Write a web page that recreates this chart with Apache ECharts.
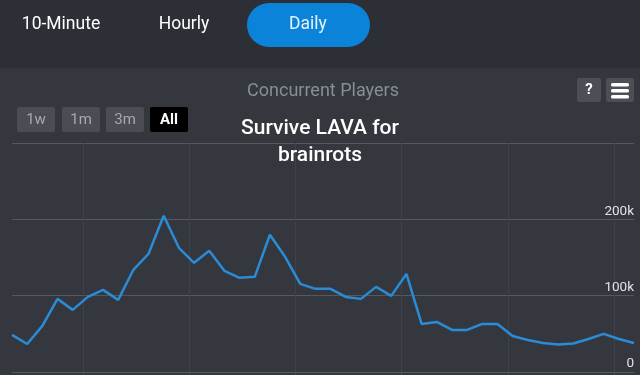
<!DOCTYPE html>
<html><head><meta charset="utf-8">
<script src="https://cdn.jsdelivr.net/npm/echarts@6/dist/echarts.min.js"></script>
<style>html,body{margin:0;padding:0;background:#34373e;}#c{width:640px;height:375px;}</style>
</head><body><div id="c"></div>
<script>
const days = [0,1,2,3,4,5,6,7,8,9,10,11,12,13,14,15,16,17,18,19,20,21,22,23,24,25,26,27,28,29,30,31,32,33,34,35,36,37,38,39,40,41];
const players = [48600,36700,60400,95800,81400,98400,107600,94500,133900,154900,204700,162700,143000,158800,132500,123400,124700,179800,150900,115500,108900,108900,98400,95800,111500,99700,128600,63000,65600,55100,55100,63000,63000,47200,42000,38000,36000,37400,43300,49900,43300,38000];
const weekTicks = [4.68, 11.68, 18.68, 25.68, 32.68, 39.68];
const yTicks = [0, 100000, 200000, 300000];
const tabs = ['10-Minute', 'Hourly', 'Daily'];
const ranges = ['1w', '1m', '3m', 'All'];
const chartTitle = 'Concurrent Players';
const gameTitle = 'Survive LAVA for\nbrainrots';

const FONT = 'Roboto, "Noto Sans", sans-serif';
const chart = echarts.init(document.getElementById('c'), null, {renderer: 'canvas'});

const tabX = [61, 184, 308];
const rangeX = [17, 62, 106, 150];
const graphics = [
  {type: 'rect', left: 0, top: 0, z: -10, shape: {width: 640, height: 68}, style: {fill: '#2c2f36'}},
  {type: 'rect', x: 247, y: 3, shape: {width: 123, height: 44, r: 22}, style: {fill: '#0a83d8'}},
];
tabs.forEach((t, i) => graphics.push({type: 'text', x: tabX[i], y: 25, style: {text: t, fill: i === 2 ? '#e6f3ff' : '#ffffff', font: '17.5px ' + FONT, textAlign: 'center', textVerticalAlign: 'middle'}}));
graphics.push({type: 'text', x: 323, y: 91, style: {text: chartTitle, fill: '#898d95', font: '18px ' + FONT, textAlign: 'center', textVerticalAlign: 'middle'}});
graphics.push({type: 'rect', x: 577, y: 78, shape: {width: 24, height: 24, r: 2}, style: {fill: '#4c4f56'}});
graphics.push({type: 'text', x: 589, y: 90, style: {text: '?', fill: '#ffffff', font: 'bold 15px ' + FONT, textAlign: 'center', textVerticalAlign: 'middle'}});
graphics.push({type: 'rect', x: 606, y: 78, shape: {width: 28, height: 24, r: 2}, style: {fill: '#4c4f56'}});
[83, 89, 95].forEach(y => graphics.push({type: 'rect', x: 611, y: y, shape: {width: 18, height: 3.5, r: 1.5}, style: {fill: '#ffffff'}}));
ranges.forEach((r, i) => {
  const active = r === 'All';
  graphics.push({type: 'rect', x: rangeX[i], y: 107, shape: {width: 38, height: 25, r: 2}, style: {fill: active ? '#000000' : '#4a4d54'}});
  graphics.push({type: 'text', x: rangeX[i] + 19, y: 120, style: {text: r, fill: active ? '#ffffff' : '#a6a9af', font: (active ? 'bold ' : '') + '15px ' + FONT, textAlign: 'center', textVerticalAlign: 'middle'}});
});
graphics.push({type: 'text', x: 320, y: 142, z: 100, style: {text: gameTitle, fill: '#ffffff', font: '500 21px ' + FONT, lineHeight: 27, textAlign: 'center', textVerticalAlign: 'middle'}});

chart.setOption({
  backgroundColor: '#34373e',
  animation: false,
  grid: {left: 12, right: 6, top: 143, bottom: 3},
  xAxis: {
    type: 'value', min: days[0], max: days[days.length - 1],
    axisLine: {show: false},
    axisLabel: {show: false},
    axisTick: {show: true, length: 4, customValues: weekTicks, lineStyle: {color: '#4a4d55'}},
    splitLine: {show: true, lineStyle: {color: '#3f424a', width: 1}}
  },
  yAxis: {
    type: 'value', position: 'right', min: yTicks[0], max: yTicks[yTicks.length - 1], interval: yTicks[1] - yTicks[0],
    axisLine: {show: false}, axisTick: {show: false},
    axisLabel: {
      inside: true, margin: 0, verticalAlign: 'bottom', color: '#e2e2e2', fontSize: 13.5, fontFamily: FONT, padding: [0, 0, 1, 0],
      formatter: v => v === yTicks[yTicks.length - 1] ? '' : (v === 0 ? '0' : (v / 1000) + 'k')
    },
    splitLine: {lineStyle: {color: '#55585f', width: 1}}
  },
  series: [{
    type: 'line', data: days.map((d, i) => [d, players[i]]), showSymbol: false,
    lineStyle: {color: '#2a8bd6', width: 2.5}, itemStyle: {color: '#2a8bd6'}
  }],
  graphic: graphics
});
</script></body></html>
